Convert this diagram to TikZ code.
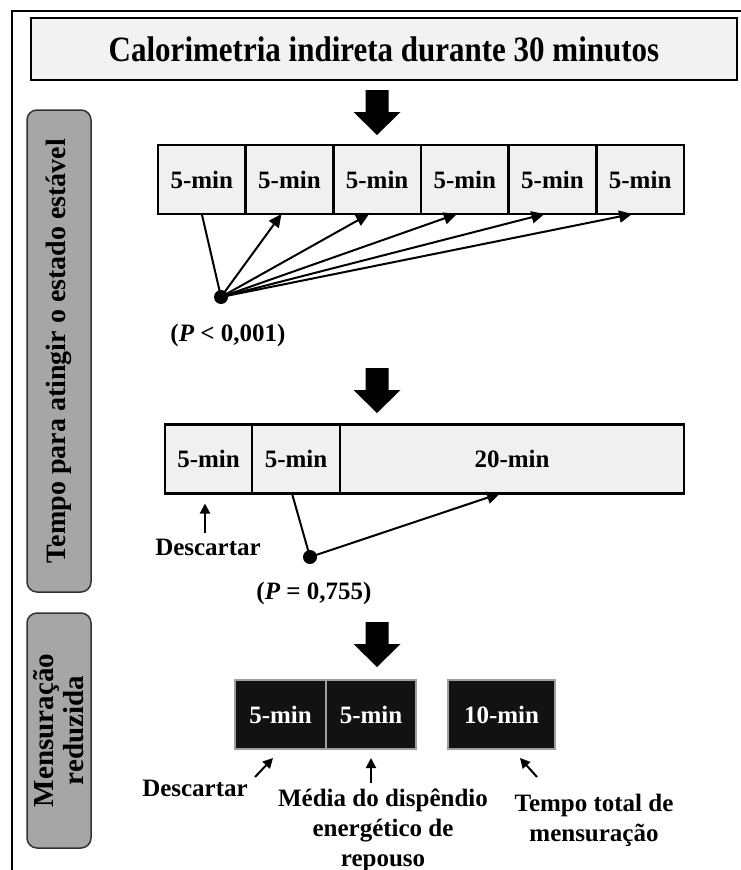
\documentclass[tikz,border=0pt]{standalone}
\usepackage{fontspec}
\setmainfont{Liberation Serif}
\usetikzlibrary{arrows.meta,positioning}

\begin{document}
\begin{tikzpicture}[
    x=1pt, y=-1pt,
    txt/.style={font=\fontsize{25}{30}\selectfont\bfseries, align=center},
    cell/.style={txt, draw, line width=2.5pt, fill=gray!12, minimum height=69pt, outer sep=0pt, inner sep=0pt},
    darkcell/.style={txt, draw=gray!75, line width=2.5pt, fill=black!93, text=white, minimum height=69pt, outer sep=0pt, inner sep=0pt},
    sidebox/.style={draw=black!80, line width=1.5pt, fill=gray!70, rounded corners=10pt, rotate=90, minimum height=64pt, align=center, font=\fontsize{28}{28}\selectfont\bfseries},
    dot/.style={circle, fill, inner sep=0pt, minimum size=14pt},
    link/.style={line width=2pt},
    arrow/.style={-{Triangle[length=13pt,width=12pt]}, line width=2pt},
    smallarrow/.style={-{Triangle[length=10pt,width=10pt]}, line width=2pt},
    blockarrow/.pic={\fill (-11.5,0) -- (11.5,0) -- (11.5,22) -- (23.5,22) -- (0,45) -- (-23.5,22) -- (-11.5,22) -- cycle;}
  ]
    \useasboundingbox (0,0) rectangle (741,870);
    \draw[line width=1.5pt] (12,870) -- (12,11) -- (741,11);

    % titulo
    \node[draw, line width=2.5pt, fill=gray!10, minimum width=706pt, minimum height=62pt, font=\fontsize{31}{34}\selectfont\bfseries] (title) at (384,49) {\scalebox{1}[1.15]{Calorimetria indireta durante 30 minutos}};
    \pic at (377,90) {blockarrow};

    % laterais
    \node[sidebox, minimum width=482pt] (side1) at (59,351) {Tempo para atingir o estado est\'avel};
    \node[sidebox, minimum width=235pt, font=\fontsize{29}{30}\selectfont\bfseries] (side2) at (59,730.5) {Mensura\c{c}\~ao\\reduzida};

    % 30 minutos em blocos de 5
    \node[cell, minimum width=87.67pt] (r1c1) at (201.8,179.5) {5-min};
    \foreach \i [count=\j from 1] in {2,...,6}
      \node[cell, minimum width=87.67pt, right=0pt of r1c\j] (r1c\i) {5-min};
    \node[dot] (d1) at (221,297) {};
    \draw[link] (d1.center) -- (r1c1.south);
    \foreach \i in {2,...,6}
      \draw[arrow] (d1.center) -- ([xshift=-8pt]r1c\i.south);
    \node[txt] (p1) at (228,335) {(\textit{P} < 0,001)};
    \pic at (377,368) {blockarrow};

    % estado estavel
    \node[cell, minimum width=87pt] (r2c1) at (208.5,459) {5-min};
    \node[cell, minimum width=88pt, right=0pt of r2c1] (r2c2) {5-min};
    \node[cell, minimum width=344pt, right=0pt of r2c2] (r2c3) {20-min};
    \node[txt] (disc1) at (208,547) {Descartar};
    \draw[smallarrow] ([xshift=-3.5pt,yshift=-39pt]r2c1.south) -- ([xshift=-3.5pt,yshift=-10pt]r2c1.south);
    \node[dot] (d2) at (310,557) {};
    \draw[link] (d2.center) -- ([xshift=-4pt]r2c2.south);
    \draw[arrow] (d2.center) -- ([xshift=-12pt]r2c3.south);
    \node[txt] (p2) at (314,593) {(\textit{P} = 0,755)};
    \pic at (377,622) {blockarrow};

    % mensuracao reduzida
    \node[darkcell, minimum width=91pt] (r3c1) at (280.5,714.5) {5-min};
    \node[darkcell, minimum width=90pt, right=0pt of r3c1] (r3c2) {5-min};
    \node[darkcell, minimum width=107pt] (r3c3) at (501.5,714.5) {10-min};
    \node[txt] (disc2) at (195,788) {Descartar};
    \node[txt] (mean) at (383,830) {M\'edia do disp\^endio\\energ\'etico de\\repouso};
    \node[txt] (total) at (594,820) {Tempo total de\\mensura\c{c}\~ao};
    \draw[smallarrow] ([xshift=-25.5pt,yshift=-28pt]r3c1.south) -- ([xshift=-7.5pt,yshift=-9pt]r3c1.south);
    \draw[smallarrow] ([yshift=-34pt]r3c2.south) -- ([yshift=-9pt]r3c2.south);
    \draw[smallarrow] ([xshift=35.5pt,yshift=-28pt]r3c3.south) -- ([xshift=18.5pt,yshift=-9pt]r3c3.south);
  \end{tikzpicture}
\end{document}
